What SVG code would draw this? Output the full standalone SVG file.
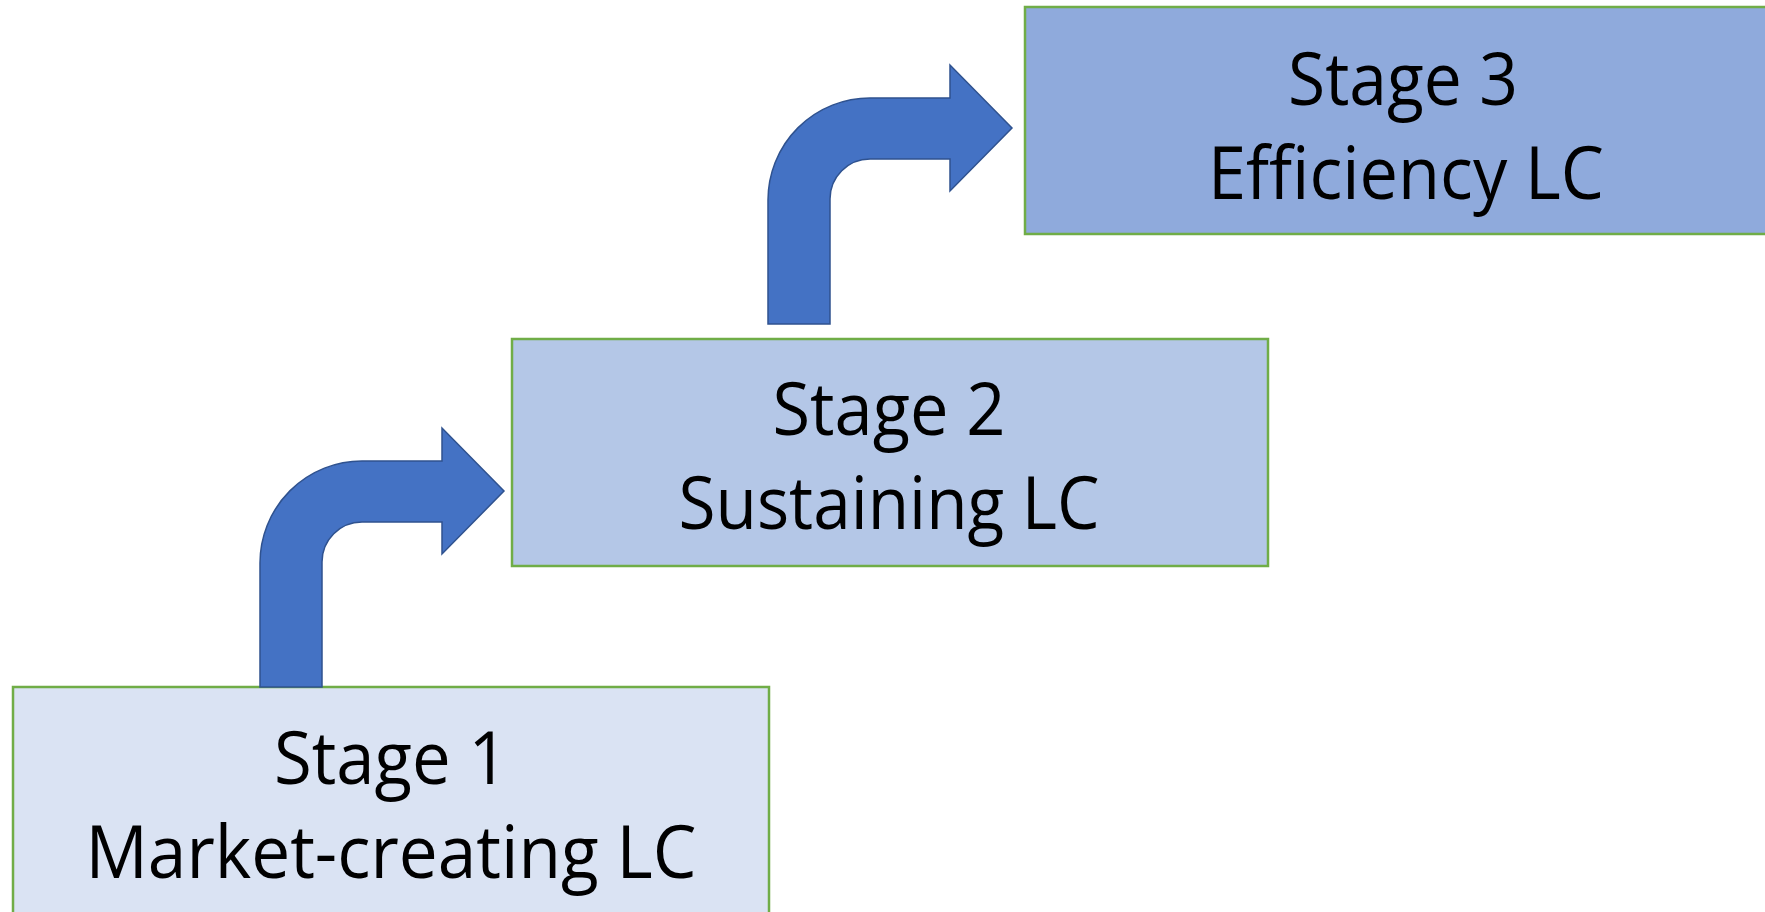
<svg xmlns="http://www.w3.org/2000/svg" width="1765" height="912" viewBox="0 0 1765 912">
<defs>
<style>
.box{stroke:#70AD47;stroke-width:2.5}
.b1{fill:#DAE3F3}.b2{fill:#B4C7E7}.b3{fill:#8FAADC}
.lbl{font-family:"Open Sans","Liberation Sans",sans-serif;font-size:73px;fill:#000;text-anchor:middle}
.arr{fill:#4472C4;stroke:#2F528F;stroke-width:1.5}
</style>
<path id="bent" d="M 260 687 L 260 563 A 102 102 0 0 1 362 461 L 442 461 L 442 428 L 504 491 L 442 554 L 442 522 L 362 522 A 40 40 0 0 0 322 562 L 322 687 Z"/>
</defs>
<rect width="1765" height="912" fill="#fff"/>
<g id="stage1">
<rect class="box b1" x="13" y="687" width="756" height="240"/>
<text class="lbl" x="391" y="784" textLength="234" lengthAdjust="spacingAndGlyphs">Stage 1</text>
<text class="lbl" x="391" y="878" textLength="611" lengthAdjust="spacingAndGlyphs">Market-creating LC</text>
</g>
<g id="stage2">
<rect class="box b2" x="512" y="339" width="756" height="227"/>
<text class="lbl" x="889" y="435" textLength="233" lengthAdjust="spacingAndGlyphs">Stage 2</text>
<text class="lbl" x="889" y="529" textLength="421" lengthAdjust="spacingAndGlyphs">Sustaining LC</text>
</g>
<g id="stage3">
<rect class="box b3" x="1025" y="7" width="760" height="227"/>
<text class="lbl" x="1403" y="105" textLength="230" lengthAdjust="spacingAndGlyphs">Stage 3</text>
<text class="lbl" x="1406" y="199" textLength="396" lengthAdjust="spacingAndGlyphs">Efficiency LC</text>
</g>
<g id="connectors">
<use href="#bent" class="arr"/>
<use href="#bent" class="arr" transform="translate(508,-363)"/>
</g>
</svg>
